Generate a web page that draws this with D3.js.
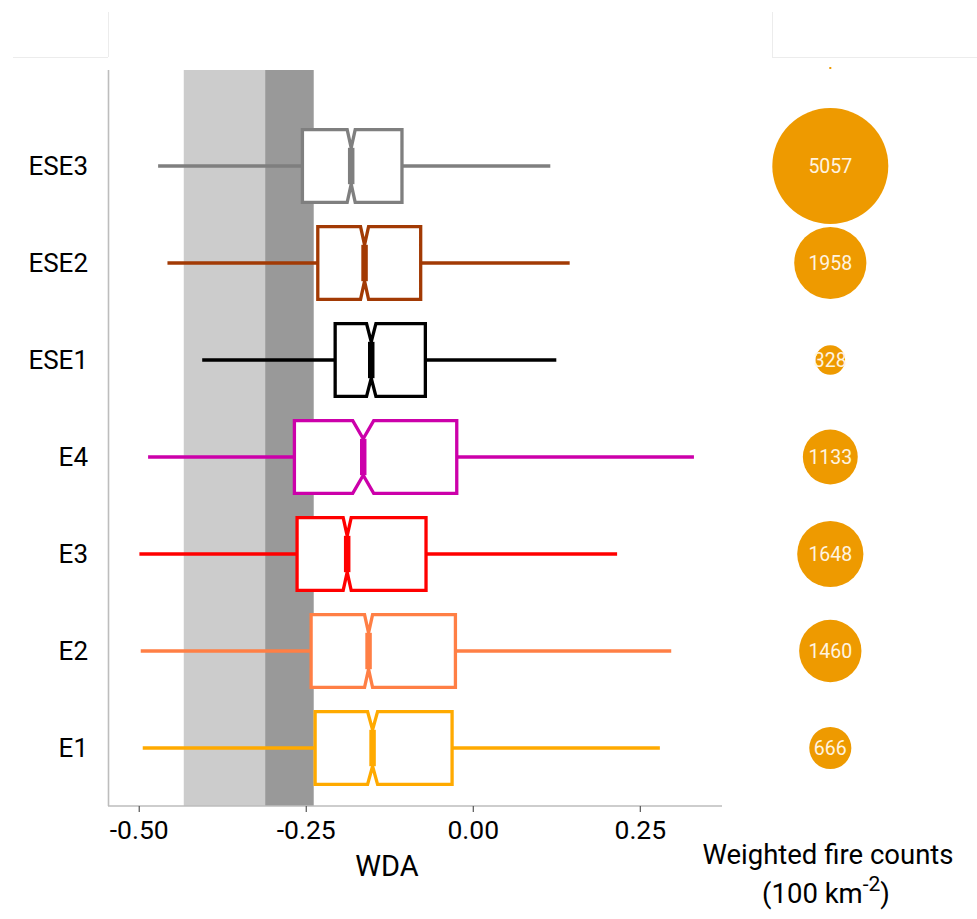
<!DOCTYPE html>
<html>
<head>
<meta charset="utf-8">
<script src="https://cdn.jsdelivr.net/npm/d3@7"></script>
<style>
  html, body { margin: 0; padding: 0; background: #ffffff; }
  svg { display: block; font-family: Roboto, "Liberation Sans", sans-serif; }
</style>
</head>
<body>
<svg id="chart" width="977" height="919"></svg>
<script>
// ---- data ----
const categories = ["ESE3", "ESE2", "ESE1", "E4", "E3", "E2", "E1"];
const whiskerLow  = [-0.471, -0.457, -0.405, -0.486, -0.499, -0.497, -0.494];
const quartile1   = [-0.255, -0.232, -0.206, -0.267, -0.263, -0.242, -0.236];
const medians     = [-0.182, -0.162, -0.152, -0.164, -0.188, -0.156, -0.150];
const quartile3   = [-0.106, -0.078, -0.071, -0.024, -0.070, -0.026, -0.031];
const whiskerHigh = [ 0.116,  0.145,  0.125,  0.331,  0.216,  0.297,  0.280];
const notchHalf   = [ 0.006,  0.006,  0.007,  0.0157, 0.006,  0.006,  0.0075];
const fireCounts  = [5057, 1958, 328, 1133, 1648, 1460, 666];
const xTicks      = [-0.50, -0.25, 0.00, 0.25];
const bandLight   = [-0.4326, -0.3108];
const bandDark    = [-0.3108, -0.2381];

// ---- styles ----
const boxColors = ["#7f7f7f", "#a23a04", "#000000", "#cc00aa", "#ff0000", "#ff7f45", "#ffaa00"];
const bubbleColor = "#ee9a00";

const svg = d3.select("#chart");

// ---- scales ----
const x = d3.scaleLinear().domain([-0.546, 0.373]).range([108, 722]);
const y = d3.scalePoint().domain(categories).range([166, 748]);
const panelTop = 70, panelBottom = 806;
const boxH = y.step() * 0.75;
const indent = boxH * 0.25;

const rows = categories.map((c, i) => ({
  cat: c, lo: whiskerLow[i], q1: quartile1[i], med: medians[i], q3: quartile3[i],
  hi: whiskerHigh[i], nh: notchHalf[i], count: fireCounts[i], color: boxColors[i]
}));

// ---- faint decorations at top ----
const deco = svg.append("g").attr("stroke", "#ececec").attr("stroke-width", 1).attr("fill", "none");
deco.append("line").attr("x1", 13).attr("x2", 108).attr("y1", 57.5).attr("y2", 57.5);
deco.append("line").attr("x1", 772).attr("x2", 977).attr("y1", 57.5).attr("y2", 57.5);
deco.append("line").attr("x1", 108.5).attr("x2", 108.5).attr("y1", 12).attr("y2", 57);
deco.append("line").attr("x1", 772.5).attr("x2", 772.5).attr("y1", 12).attr("y2", 57);

// ---- shaded bands ----
svg.append("rect").attr("x", x(bandLight[0])).attr("width", x(bandLight[1]) - x(bandLight[0]))
  .attr("y", panelTop).attr("height", panelBottom - panelTop).attr("fill", "#cccccc");
svg.append("rect").attr("x", x(bandDark[0])).attr("width", x(bandDark[1]) - x(bandDark[0]))
  .attr("y", panelTop).attr("height", panelBottom - panelTop).attr("fill", "#999999");

// ---- boxplots ----
const g = svg.append("g");
rows.forEach(d => {
  const cy = y(d.cat), top = cy - boxH / 2, bot = cy + boxH / 2;
  const gg = g.append("g").attr("stroke", d.color).attr("fill", "none")
    .attr("stroke-width", 3.3);
  gg.append("line").attr("x1", x(d.lo)).attr("x2", x(d.q1)).attr("y1", cy).attr("y2", cy);
  gg.append("line").attr("x1", x(d.q3)).attr("x2", x(d.hi)).attr("y1", cy).attr("y2", cy);
  const nlo = d.med - d.nh, nhi = d.med + d.nh;
  const pts = [
    [x(d.q1), top], [x(nlo), top], [x(d.med), top + indent], [x(nhi), top], [x(d.q3), top],
    [x(d.q3), bot], [x(nhi), bot], [x(d.med), bot - indent], [x(nlo), bot], [x(d.q1), bot]
  ];
  gg.append("path").attr("d", d3.line()(pts) + "Z").attr("fill", "#ffffff")
    .attr("stroke-linejoin", "miter");
  gg.append("line").attr("x1", x(d.med)).attr("x2", x(d.med))
    .attr("y1", top + indent).attr("y2", bot - indent).attr("stroke-width", 6.5);
});

// ---- axes ----
svg.append("line").attr("x1", 108.5).attr("x2", 108.5).attr("y1", panelTop).attr("y2", panelBottom)
  .attr("stroke", "#bdbdbd").attr("stroke-width", 1.6);
const xAxis = svg.append("g").attr("transform", `translate(0,${panelBottom})`)
  .call(d3.axisBottom(x).tickValues(xTicks).tickSize(6).tickSizeOuter(0)
    .tickFormat(v => d3.format(".2f")(v).replace("\u2212", "-")));
xAxis.select(".domain").attr("stroke", "#bdbdbd").attr("stroke-width", 1.6)
  .attr("d", `M108,0H722`);
xAxis.selectAll(".tick line").attr("stroke", "#555").attr("stroke-width", 1.2);
xAxis.selectAll(".tick text").attr("y", 33).attr("dy", 0)
  .attr("font-size", 26.5).attr("fill", "#000").attr("font-family", "Roboto");

// y labels
svg.append("g").selectAll("text").data(rows).join("text")
  .attr("x", 88).attr("y", d => y(d.cat) + 9.4)
  .attr("text-anchor", "end").attr("font-size", 26).attr("fill", "#000")
  .text(d => d.cat);

// x title
svg.append("text").attr("x", 387).attr("y", 876).attr("text-anchor", "middle")
  .attr("font-size", 29).attr("fill", "#000").text("WDA");

// ---- bubbles ----
const r = d3.scaleSqrt().domain([0, d3.max(fireCounts)]).range([0, 58]);
const bx = 830.3;
svg.append("rect").attr("x", bx - 1).attr("y", 67).attr("width", 2).attr("height", 2).attr("fill", bubbleColor);
const bub = svg.append("g");
bub.selectAll("circle").data(rows).join("circle")
  .attr("cx", bx).attr("cy", d => y(d.cat)).attr("r", d => r(d.count)).attr("fill", bubbleColor);
bub.selectAll("text").data(rows).join("text")
  .attr("x", bx).attr("y", d => y(d.cat) + 7).attr("text-anchor", "middle")
  .attr("font-size", 19.5).attr("fill", "#fff4e0").text(d => d.count);

// right title
const t = svg.append("text").attr("text-anchor", "middle").attr("font-size", 27.5).attr("fill", "#000");
t.append("tspan").attr("x", 828).attr("y", 864).text("Weighted fire counts");
const t2 = svg.append("text").attr("text-anchor", "middle").attr("font-size", 27.5).attr("fill", "#000")
  .attr("x", 826).attr("y", 903);
t2.append("tspan").text("(100 km");
t2.append("tspan").attr("dy", -12).attr("font-size", 21).text("-2");
t2.append("tspan").attr("dy", 12).text(")");
</script>
</body>
</html>
